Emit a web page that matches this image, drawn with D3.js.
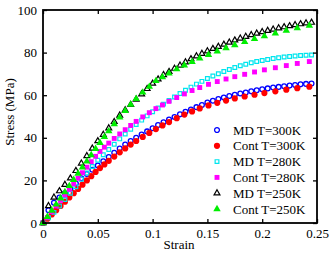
<!DOCTYPE html>
<html>
<head>
<meta charset="utf-8">
<script src="https://cdn.jsdelivr.net/npm/d3@7"></script>
<style>
  body { margin: 0; background: #fff; }
</style>
</head>
<body>
<div id="chart"></div>
<script>
// MD samples (every 0.005 strain)
var mdStrain = [0, 0.005, 0.01, 0.015, 0.02, 0.025, 0.03, 0.035, 0.04, 0.045, 0.05, 0.055, 0.06, 0.065, 0.07, 0.075, 0.08, 0.085, 0.09, 0.095,
  0.1, 0.105, 0.11, 0.115, 0.12, 0.125, 0.13, 0.135, 0.14, 0.145, 0.15, 0.155, 0.16, 0.165, 0.17, 0.175, 0.18, 0.185, 0.19, 0.195,
  0.2, 0.205, 0.21, 0.215, 0.22, 0.225, 0.23, 0.235, 0.24, 0.245];
var md300 = [0, 6, 9.5, 12, 14, 16, 18.5, 21, 23, 25, 27, 29, 31, 33, 35, 36.8, 38.5, 40, 41.5, 43,
  44.5, 46, 47.3, 48.6, 49.8, 51, 52.2, 53.3, 54.4, 55.4, 56.6, 57.4, 58.2, 58.9, 59.6, 60.2, 60.8, 61.3, 61.8, 62.3,
  62.8, 63.2, 63.6, 63.9, 64.2, 64.5, 64.8, 65.1, 65.3, 65.5];
var md280 = [0, 2.5, 5, 8, 11, 14, 17, 20.5, 23.5, 26.5, 29.5, 32, 34.5, 37, 39.5, 41.8, 44, 46.2, 48.3, 50.3,
  52.2, 54, 55.8, 57.5, 59.2, 60.8, 62.3, 63.8, 65.2, 66.5, 67.8, 69, 70.1, 71.1, 72.1, 73, 73.8, 74.5, 75.2, 75.8,
  76.3, 76.8, 77.2, 77.6, 77.9, 78.2, 78.4, 78.6, 78.8, 78.9];
var md250 = [0, 8, 12, 15, 18, 21, 24.5, 28, 31.5, 35, 38.5, 41.5, 44.5, 47.5, 50.5, 53, 55.5, 58, 60.5, 63,
  65.5, 67.5, 69.5, 71, 72.5, 74, 75.5, 77, 78.3, 79.5, 80.7, 81.8, 82.8, 83.8, 84.8, 85.8, 86.7, 87.5, 88.3, 89,
  89.7, 90.3, 90.9, 91.5, 92, 92.5, 93, 93.4, 93.8, 94.1];

// continuum samples
var contStrain = [0, 0.004, 0.008, 0.012, 0.016, 0.02, 0.024, 0.028, 0.032, 0.036, 0.04, 0.044, 0.048, 0.052, 0.056, 0.06,
  0.065, 0.07, 0.075, 0.08, 0.085, 0.091, 0.097, 0.103, 0.109, 0.115, 0.122, 0.129, 0.136, 0.143, 0.151, 0.159,
  0.167, 0.175, 0.184, 0.193, 0.202, 0.212, 0.222, 0.232, 0.243];
var cont300 = [0, 2, 4, 6, 8, 10, 12, 14, 16, 18, 20, 22, 24, 25.8, 27.5, 29.2,
  31.2, 33.2, 35, 36.8, 38.5, 40.4, 42.3, 44.1, 45.8, 47.4, 49.2, 50.9, 52.4, 53.8, 55.2, 56.4,
  57.5, 58.5, 59.4, 60.2, 61, 61.8, 62.6, 63.3, 64];
var cont280 = [0, 2.6, 5.3, 8, 10.6, 13.2, 15.8, 18.4, 21, 23.6, 26.2, 28.8, 31.3, 33.6, 35.6, 37.5,
  39.7, 41.8, 43.8, 45.8, 47.7, 49.8, 51.8, 53.7, 55.4, 57.1, 58.9, 60.6, 62.2, 63.6, 65.1, 66.4,
  67.6, 68.7, 69.8, 70.9, 71.9, 72.9, 73.9, 74.9, 75.8];
var cont250 = [0, 2.9, 5.8, 8.7, 11.6, 14.5, 17.4, 20.3, 23.2, 26.1, 29, 31.9, 34.8, 37.6, 40.4, 43.1,
  46.4, 49.6, 52.7, 55.6, 58.3, 61.3, 64, 66.7, 68.5, 70.2, 72.2, 74, 75.7, 77.3, 79, 80.6,
  82.1, 83.5, 85, 86.4, 87.7, 89, 90.3, 91.5, 92.7];

var xTicks = [0, 0.05, 0.1, 0.15, 0.2, 0.25];
var yTicks = [0, 20, 40, 60, 80, 100];
var labels = ["MD T=300K", "Cont T=300K", "MD T=280K", "Cont T=280K", "MD T=250K", "Cont T=250K"];

const FONT = "'Liberation Serif', 'Times New Roman', Times, serif";
const W = 332, H = 254;
const margin = {top: 10, right: 15, bottom: 31, left: 43};
const width = W - margin.left - margin.right,
      height = H - margin.top - margin.bottom;

const svg = d3.select("#chart").append("svg")
    .attr("width", W).attr("height", H)
  .append("g")
    .attr("transform", `translate(${margin.left},${margin.top})`);

const x = d3.scaleLinear().domain([0, 0.25]).range([0, width]);
const y = d3.scaleLinear().domain([0, 100]).range([height, 0]);

// series: style per curve
const series = [
  {xs: mdStrain, ys: md300, shape: "circle", fill: "none", stroke: "#0000ff", size: 2.4},
  {xs: contStrain, ys: cont300, shape: "circle", fill: "#ff0000", stroke: "none", size: 3.1},
  {xs: mdStrain, ys: md280, shape: "square", fill: "none", stroke: "#00e5ee", size: 14},
  {xs: contStrain, ys: cont280, shape: "square", fill: "#ff00ff", stroke: "none", size: 24},
  {xs: mdStrain, ys: md250, shape: "triangle", fill: "none", stroke: "#000000", size: 15},
  {xs: contStrain, ys: cont250, shape: "triangle", fill: "#00ee00", stroke: "none", size: 24}
];

function drawMarker(g, s, px, py) {
  if (s.shape == "circle") {
    g.append("circle").attr("cx", px).attr("cy", py).attr("r", s.size)
      .attr("fill", s.fill).attr("stroke", s.stroke).attr("stroke-width", 1.3);
  } else {
    const type = s.shape == "square" ? d3.symbolSquare : d3.symbolTriangle;
    g.append("path")
      .attr("transform", `translate(${px},${py})`)
      .attr("d", d3.symbol().type(type).size(s.size)())
      .attr("fill", s.fill).attr("stroke", s.stroke).attr("stroke-width", 1.2);
  }
}

series.forEach(function(s) {
  const g = svg.append("g");
  s.xs.forEach(function(v, i) {
    drawMarker(g, s, x(v), y(s.ys[i]));
  });
});

// axes, ticks inside on all four sides
const fmt = d3.format("~g");
svg.append("g").attr("transform", `translate(0,${height})`)
  .call(d3.axisBottom(x).tickValues(xTicks).tickFormat(fmt).tickSizeInner(-4).tickSizeOuter(0).tickPadding(6));
svg.append("g")
  .call(d3.axisLeft(y).tickValues(yTicks).tickSizeInner(-4).tickSizeOuter(0).tickPadding(6));
svg.append("g")
  .call(d3.axisTop(x).tickValues(xTicks).tickFormat("").tickSizeInner(-4).tickSizeOuter(0));
svg.append("g").attr("transform", `translate(${width},0)`)
  .call(d3.axisRight(y).tickValues(yTicks).tickFormat("").tickSizeInner(-4).tickSizeOuter(0));

svg.selectAll("g").attr("font-family", FONT);
svg.selectAll(".tick line").attr("stroke", "#000").attr("stroke-width", 1.3);
svg.selectAll(".domain").remove();
svg.selectAll(".tick text").attr("font-size", 13).attr("fill", "#000");

svg.append("rect").attr("width", width).attr("height", height)
  .attr("fill", "none").attr("stroke", "#000").attr("stroke-width", 1.8);

// axis titles
svg.append("text").attr("x", 136).attr("y", height + 26).attr("font-family", FONT)
  .attr("text-anchor", "middle").attr("font-size", 13).text("Strain");
svg.append("text").attr("font-family", FONT)
  .attr("transform", `translate(-29,${102}) rotate(-90)`)
  .attr("text-anchor", "middle").attr("font-size", 13).text("Stress (MPa)");

// legend
const leg = svg.append("g").attr("transform", "translate(174,120)");
labels.forEach(function(lab, i) {
  const s = series[i];
  const ly = i * 15.8;
  drawMarker(leg, s, 0, ly);
  leg.append("text").attr("x", 16).attr("y", ly + 4.5).attr("font-family", FONT)
    .attr("font-size", 13).text(lab);
});
</script>
</body>
</html>
